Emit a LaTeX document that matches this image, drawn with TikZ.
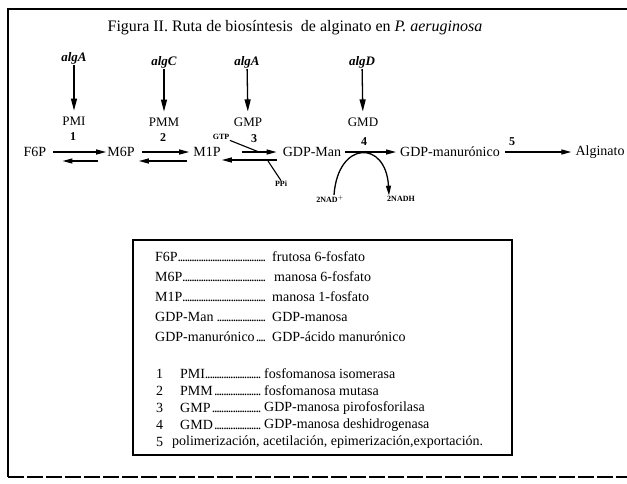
\documentclass[tikz,border=0pt]{standalone}
\usepackage{fontspec}
\setmainfont{Liberation Serif}
\usepackage{tikz}
\usetikzlibrary{arrows.meta, positioning}

\newcommand{\puntos}{\leaders\hbox to 2.3pt{\hss.\hss}\hfill}

\begin{document}
\begin{tikzpicture}[
    x=1pt, y=-1pt,
    met/.style={inner sep=1pt, font=\fontsize{14}{16}\selectfont},
    enz/.style={inner sep=1pt, font=\fontsize{13}{15}\selectfont},
    gen/.style={inner sep=1pt, font=\fontsize{13}{15}\selectfont\bfseries\itshape},
    paso/.style={inner sep=1pt, font=\fontsize{12}{14}\selectfont\bfseries},
    cofac/.style={inner sep=0.5pt, font=\fontsize{8}{9}\selectfont\bfseries},
    leyenda/.style={anchor=west, inner sep=0pt, font=\fontsize{14}{16}\selectfont},
    rxn/.style={draw, line width=1.3pt, -{Triangle[length=10pt,width=5pt]}},
    ind/.style={draw, line width=1.3pt, -{Triangle[length=12pt,width=6pt]}, shorten >=5pt},
    marco/.style={line width=1.5pt}
]
\useasboundingbox (0,0) rectangle (627,483);

% --- MARCO ---
\draw[marco] (627,9) -- (8,9) -- (8,477);
\draw[marco, dash pattern=on 16pt off 3pt] (8,477) -- (627,477);

\node[font=\fontsize{16}{18}\selectfont] (titulo) at (295,28)
    {Figura II. Ruta de biosíntesis\ \ de alginato en \textit{P. aeruginosa}};

% --- GENES Y ENZIMAS ---
\node[gen] (algA1) at (74,58) {algA};
\node[gen] (algC) at (164,62) {algC};
\node[gen] (algA2) at (247,62) {algA};
\node[gen] (algD) at (362,62) {algD};

\node[enz] (PMI) at (74,121) {PMI};
\node[enz] (PMM) at (164,122) {PMM};
\node[enz] (GMP) at (248,122) {GMP};
\node[enz] (GMD) at (363,122) {GMD};

\node[paso] (p1) at (73,137) {1};
\node[paso] (p2) at (163,138) {2};
\node[paso] (p3) at (254,139) {3};
\node[paso] (p4) at (364,142) {4};
\node[paso] (p5) at (512,142) {5};

\path[ind] (algA1) -- (PMI);
\path[ind] (algC) -- (PMM);
\path[ind] (algA2) -- (GMP);
\path[ind] (algD) -- (GMD);

% --- METABOLITOS ---
\node[met] (F6P) at (35,152) {F6P};
\node[met] (M6P) at (121,152) {M6P};
\node[met] (M1P) at (207,152) {M1P};
\node[met] (GDPMan) at (312,152) {GDP-Man};
\node[met] (GDPmanur) at (450,152) {GDP-manurónico};
\node[met] (Alginato) at (600,152) {Alginato};

\node[cofac] (GTP) at (221,137) {GTP};
\node[cofac] (PPi) at (281,184) {PPi};
\node[cofac] (NAD) at (330,199) {2NAD$^+$};
\node[cofac] (NADH) at (401,199) {2NADH};

\coordinate (gtpin) at (259,152);
\coordinate (ppiout) at (268,161);

% --- REACCIONES ---
\path[rxn, shorten <=6pt] (F6P.east) -- (M6P.west);
\path[rxn, shorten <=8pt, shorten >=15pt] ([yshift=-9pt]M6P.west) -- ([yshift=-9pt]F6P.east);
\path[rxn, shorten <=6pt, shorten >=3pt] (M6P.east) -- (M1P.west);
\path[rxn, shorten <=5pt, shorten >=3pt] ([yshift=-9pt]M1P.west) -- ([yshift=-9pt]M6P.east);
\path[rxn, shorten <=20pt, shorten >=5pt] (M1P.east) -- (GDPMan.west);
\path[rxn, shorten <=5pt] ([yshift=-8pt]GDPMan.west) -- ([yshift=-8pt]M1P.east);
\path[rxn, shorten <=3pt, shorten >=3pt] (GDPMan.east) -- (GDPmanur.west);
\path[rxn, shorten <=4pt, shorten >=3pt] (GDPmanur.east) -- (Alginato.west);

\draw[line width=1.1pt] (GTP.south east) -- (gtpin);
\draw[line width=1.1pt] (ppiout) -- (PPi.north);
\path[rxn] ([xshift=4pt]NAD.north) .. controls (338,140) and (386,140) .. ([xshift=-12pt]NADH.north);

% --- LEYENDA ---
\draw[line width=1.2pt] (133,240) rectangle (512,455);

\node[leyenda] (lF6P) at (155,257) {\makebox[112pt][l]{F6P\puntos}};
\node[leyenda] (dF6P) at (272,257) {frutosa 6-fosfato};
\node[leyenda] (lM6P) at (155,277) {\makebox[112pt][l]{M6P\puntos}};
\node[leyenda] (dM6P) at (274,277) {manosa 6-fosfato};
\node[leyenda] (lM1P) at (155,297) {\makebox[112pt][l]{M1P\puntos}};
\node[leyenda] (dM1P) at (272,297) {manosa 1-fosfato};
\node[leyenda] (lMan) at (155,317) {\makebox[112pt][l]{GDP-Man\,\puntos}};
\node[leyenda] (dMan) at (272,317) {GDP-manosa};
\node[leyenda] (lmanur) at (155,337) {\makebox[112pt][l]{GDP-manurónico\puntos}};
\node[leyenda] (dmanur) at (272,337) {GDP-ácido manurónico};

\node[leyenda] (n1) at (156,374) {1};
\node[leyenda] (l1) at (180,374) {\makebox[82pt][l]{PMI\puntos}};
\node[leyenda] (d1) at (264,374) {fosfomanosa isomerasa};
\node[leyenda] (n2) at (156,391) {2};
\node[leyenda] (l2) at (180,391) {\makebox[82pt][l]{PMM\puntos}};
\node[leyenda] (d2) at (264,391) {fosfomanosa mutasa};
\node[leyenda] (n3) at (156,408) {3};
\node[leyenda] (l3) at (180,408) {\makebox[82pt][l]{GMP\puntos}};
\node[leyenda] (d3) at (264,408) {GDP-manosa pirofosforilasa};
\node[leyenda] (n4) at (156,425) {4};
\node[leyenda] (l4) at (180,425) {\makebox[82pt][l]{GMD\puntos}};
\node[leyenda] (d4) at (264,425) {GDP-manosa deshidrogenasa};
\node[leyenda] (n5) at (156,442) {5};
\node[leyenda] (d5) at (172,442) {polimerización, acetilación, epimerización,exportación.};
\end{tikzpicture}
\end{document}
